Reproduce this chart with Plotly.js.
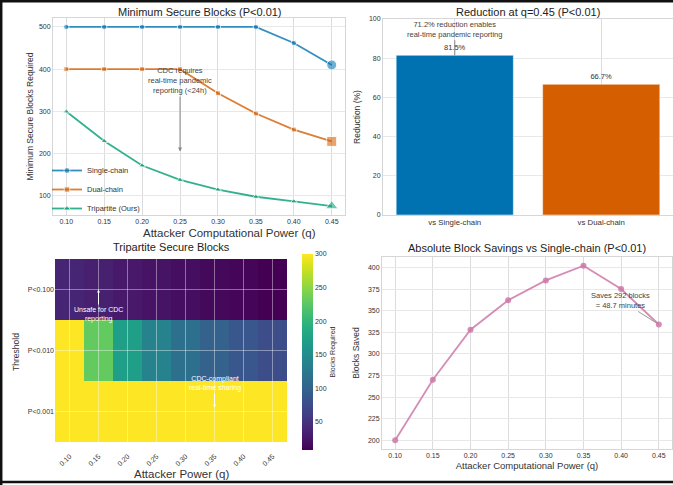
<!DOCTYPE html>
<html>
<head>
<meta charset="utf-8">
<script src="https://cdn.plot.ly/plotly-3.0.1.min.js"></script>
<style>html,body{margin:0;padding:0;background:#fff;}#chart{width:673px;height:485px;}</style>
</head>
<body>
<div id="chart"></div>
<script>
// ---- data ----
const Q = [0.10, 0.15, 0.20, 0.25, 0.30, 0.35, 0.40, 0.45];
const Q_LABELS = ['0.10', '0.15', '0.20', '0.25', '0.30', '0.35', '0.40', '0.45'];
const SINGLE_CHAIN = [500, 500, 500, 500, 500, 500, 462, 410];
const DUAL_CHAIN = [400, 400, 400, 400, 343, 295, 257, 229];
const TRIPARTITE = [300, 230, 172, 138, 115, 98, 87, 76];
const REDUCTION_CATS = ['vs Single-chain', 'vs Dual-chain'];
const REDUCTION_VALUES = [81.5, 66.7];
const SAVINGS = [200, 270, 328, 362, 385, 402, 375, 334];
const THRESHOLDS = ['P<0.100', 'P<0.010', 'P<0.001'];
const HEAT_P100 = [38, 33, 27, 22, 18, 14, 11, 8];
const HEAT_P010 = [300, 230, 172, 138, 115, 98, 87, 76];
const HEAT_P001 = [300, 300, 300, 300, 300, 300, 300, 300];
const BAR_TICKS = [0, 20, 40, 60, 80, 100];
const LEFT_TICKS = [100, 200, 300, 400, 500];
const SAVE_TICKS = [200, 225, 250, 275, 300, 325, 350, 375, 400];
const CBAR_TICKS = [50, 100, 150, 200, 250, 300];

// ---- helpers ----
const W = 673, H = 485;
const px = v => v / W;
const py = v => 1 - v / H;
const TXT = '#333333';
const FONT = 'Liberation Sans, Arial, sans-serif';
const lastBig = (small, big) => Q.map((_, i) => i === Q.length - 1 ? big : small);

const traces = [
  {x: Q, y: SINGLE_CHAIN, name: 'Single-chain', type: 'scatter', mode: 'lines+markers',
   line: {color: 'rgba(0,114,178,0.8)', width: 1.8},
   marker: {symbol: 'circle', size: lastBig(5.5, 10), color: 'rgba(0,114,178,0.8)'},
   xaxis: 'x', yaxis: 'y'},
  {x: Q, y: DUAL_CHAIN, name: 'Dual-chain', type: 'scatter', mode: 'lines+markers',
   line: {color: 'rgba(213,94,0,0.8)', width: 1.8},
   marker: {symbol: 'square', size: lastBig(5, 10), color: 'rgba(213,94,0,0.8)'},
   xaxis: 'x', yaxis: 'y'},
  {x: Q, y: TRIPARTITE, name: 'Tripartite (Ours)', type: 'scatter', mode: 'lines+markers',
   line: {color: 'rgba(0,158,115,0.8)', width: 1.8},
   marker: {symbol: 'triangle-up', size: lastBig(6, 11), color: 'rgba(0,158,115,0.8)'},
   xaxis: 'x', yaxis: 'y'},
  {x: REDUCTION_CATS, y: REDUCTION_VALUES, type: 'bar', showlegend: false, width: 0.8,
   marker: {color: ['#0072B2', '#D55E00'], line: {color: 'rgba(255,255,255,0.5)', width: 1}},
   texttemplate: '%{y:.1f}%', textposition: 'outside', cliponaxis: false,
   textfont: {size: 7.5, color: TXT, family: FONT},
   xaxis: 'x2', yaxis: 'y2'},
  {x: Q, y: THRESHOLDS, z: [HEAT_P100, HEAT_P010, HEAT_P001], type: 'heatmap',
   colorscale: 'Viridis', zmin: 8, zmax: 300, showlegend: false, xgap: 0, ygap: 0,
   colorbar: {x: px(302), xanchor: 'left', xref: 'paper', y: py(352), yanchor: 'middle',
              xpad: 0, ypad: 0,
              len: 196, lenmode: 'pixels', thickness: 11, thicknessmode: 'pixels',
              outlinewidth: 0, tickvals: CBAR_TICKS, ticks: '',
              tickfont: {size: 7, color: TXT, family: FONT},
              title: {text: 'Blocks Required', side: 'right', font: {size: 7, color: TXT, family: FONT}}},
   xaxis: 'x3', yaxis: 'y3'},
  {x: Q, y: SAVINGS, type: 'scatter', mode: 'lines+markers', showlegend: false,
   line: {color: 'rgba(204,121,167,0.85)', width: 1.8},
   marker: {symbol: 'circle', size: 6, color: 'rgba(204,121,167,0.85)'},
   xaxis: 'x4', yaxis: 'y4'}
];

const tickF = {size: 7, color: TXT, family: FONT};
const baseAx = {showline: true, mirror: true, linecolor: '#d6d6d6', linewidth: 1,
  showgrid: true, zeroline: false, ticks: '', tickfont: tickF, automargin: false};

const shapes = [];
// white grid lines over heatmap
Q.forEach(q => shapes.push({type: 'line', xref: 'x3', yref: 'y3 domain', x0: q, x1: q, y0: 0, y1: 1,
  line: {color: 'rgba(255,255,255,0.4)', width: 1}, layer: 'above'}));
THRESHOLDS.forEach((t, i) => shapes.push({type: 'line', xref: 'x3 domain', yref: 'y3', x0: 0, x1: 1, y0: i, y1: i,
  line: {color: 'rgba(255,255,255,0.4)', width: 1}, layer: 'above'}));
// outer black frame (top, left, bottom)
shapes.push({type: 'line', xref: 'paper', yref: 'paper', x0: 0, x1: 1, y0: py(1.2), y1: py(1.2), line: {color: '#111', width: 2.5}});
shapes.push({type: 'line', xref: 'paper', yref: 'paper', x0: px(1.2), x1: px(1.2), y0: 0, y1: 1, line: {color: '#111', width: 2.5}});
shapes.push({type: 'line', xref: 'paper', yref: 'paper', x0: 0, x1: 1, y0: py(482), y1: py(482), line: {color: '#111', width: 2.5}});

const textAnn = (text, xc, yc, size, color) => ({text, xref: 'paper', yref: 'paper', x: px(xc), y: py(yc),
  xanchor: 'center', yanchor: 'middle', showarrow: false, font: {size, color, family: FONT}});

const annotations = [
  textAnn('Minimum Secure Blocks (P<0.01)', 200, 12, 11, '#222'),
  textAnn('Reduction at q=0.45 (P<0.01)', 528, 12, 11, '#222'),
  textAnn('Tripartite Secure Blocks', 171, 247, 11, '#222'),
  textAnn('Absolute Block Savings vs Single-chain (P<0.01)', 527, 248, 11, '#222'),
  textAnn('Attacker Computational Power (q)', 229, 233, 11.5, TXT),
  textAnn('Attacker Power (q)', 181, 474, 11.5, TXT),
  {text: 'CDC requires<br>real-time pandemic<br>reporting (&lt;24h)', xref: 'x', yref: 'y', x: Q[3], y: 205,
   ax: 0, ay: -71, showarrow: true, arrowcolor: '#888', arrowwidth: 1, arrowhead: 2, arrowsize: 0.8,
   font: {size: 7.5, color: '#444', family: FONT}, align: 'center'},
  {text: '71.2% reduction enables<br>real-time pandemic reporting', xref: 'x2', yref: 'y2',
   x: REDUCTION_CATS[0], y: REDUCTION_VALUES[0], ax: 0, ay: -26, showarrow: true,
   arrowcolor: '#888', arrowwidth: 1, arrowhead: 0, font: {size: 7.5, color: '#444', family: FONT}, align: 'center'},
  {text: 'Unsafe for CDC<br>reporting', xref: 'x3', yref: 'y3', x: Q[1], y: THRESHOLDS[0], ax: 0, ay: 25,
   showarrow: true, arrowcolor: '#fff', arrowwidth: 1, arrowhead: 2, arrowsize: 0.6,
   font: {size: 7, color: '#fff', family: FONT}, align: 'center'},
  {text: 'CDC-compliant<br>real-time sharing', xref: 'x3', yref: 'y3', x: Q[5], y: THRESHOLDS[2], ax: 0, ay: -28,
   showarrow: true, arrowcolor: '#fff', arrowwidth: 1, arrowhead: 2, arrowsize: 0.6, standoff: 4,
   font: {size: 7, color: '#fff', family: FONT}, align: 'center'},
  {text: 'Saves 292 blocks<br>= 48.7 minutes', xref: 'x4', yref: 'y4', x: Q[7], y: SAVINGS[7], ax: -38, ay: -24,
   showarrow: true, arrowcolor: '#999', arrowwidth: 1, arrowhead: 0, standoff: 3,
   font: {size: 7.5, color: '#444', family: FONT}, align: 'center'}
];

const layout = {
  width: W, height: H, margin: {l: 0, r: 0, t: 0, b: 0},
  paper_bgcolor: '#fff', plot_bgcolor: '#fff',
  font: {family: FONT, color: TXT},
  showlegend: true,
  legend: {x: px(47), y: py(223), xanchor: 'left', yanchor: 'bottom', bgcolor: 'rgba(255,255,255,0)',
           font: {size: 7.5, color: TXT, family: FONT}, itemwidth: 30, tracegroupgap: 0},
  xaxis: Object.assign({}, baseAx, {domain: [px(53), px(345)], anchor: 'y', range: [0.0825, 0.4675],
    tickvals: Q, ticktext: Q_LABELS, gridcolor: '#dcdcdc'}),
  yaxis: Object.assign({}, baseAx, {domain: [py(215), py(18)], anchor: 'x', range: [54.8, 521.2],
    tickvals: LEFT_TICKS, gridcolor: '#e8e8e8',
    title: {text: 'Minimum Secure Blocks Required', font: {size: 8.5, color: TXT, family: FONT}, standoff: 3}}),
  xaxis2: Object.assign({}, baseAx, {domain: [px(383), px(673)], anchor: 'y2', range: [-0.49, 1.49],
    gridcolor: '#dcdcdc', tickfont: {size: 7.8, color: TXT, family: FONT}}),
  yaxis2: Object.assign({}, baseAx, {domain: [py(215), py(19)], anchor: 'x2', range: [0, 100],
    tickvals: BAR_TICKS, gridcolor: '#e8e8e8',
    title: {text: 'Reduction (%)', font: {size: 8.5, color: TXT, family: FONT}, standoff: 6}}),
  xaxis3: Object.assign({}, baseAx, {domain: [px(55), px(287)], anchor: 'y3', range: [0.075, 0.475],
    tickvals: Q, ticktext: Q_LABELS, tickangle: -45, showline: false, showgrid: false}),
  yaxis3: Object.assign({}, baseAx, {domain: [py(450), py(254)], anchor: 'x3', autorange: 'reversed',
    showline: false, showgrid: false,
    title: {text: 'Threshold', font: {size: 8.5, color: TXT, family: FONT}, standoff: 6}}),
  xaxis4: Object.assign({}, baseAx, {domain: [px(382), px(672)], anchor: 'y4', range: [0.0825, 0.4675],
    tickvals: Q, ticktext: Q_LABELS, gridcolor: '#dcdcdc',
    title: {text: 'Attacker Computational Power (q)', font: {size: 9.5, color: TXT, family: FONT}, standoff: 3}}),
  yaxis4: Object.assign({}, baseAx, {domain: [py(449), py(257)], anchor: 'x4', range: [189.9, 412.1],
    tickvals: SAVE_TICKS, gridcolor: '#e8e8e8',
    title: {text: 'Blocks Saved', font: {size: 8.5, color: TXT, family: FONT}, standoff: 6}}),
  shapes, annotations
};

Plotly.newPlot('chart', traces, layout, {staticPlot: true, displayModeBar: false});
</script>
</body>
</html>
